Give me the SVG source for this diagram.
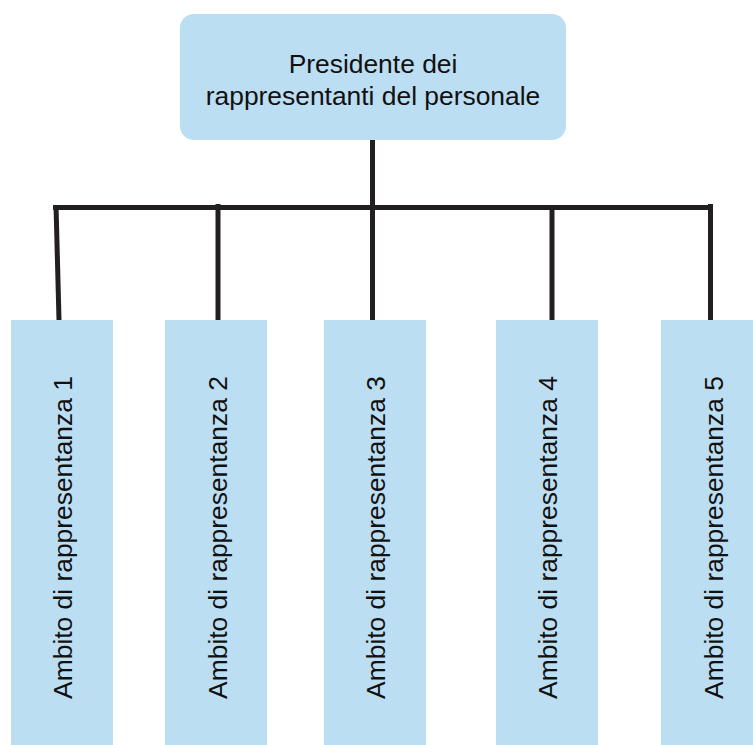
<svg xmlns="http://www.w3.org/2000/svg" width="753" height="745" viewBox="0 0 753 745">
  <style>
    .box { fill: #BCDEF3; }
    .lbl { font-family: "Liberation Sans", Arial, Helvetica, sans-serif; font-size: 26.4px; fill: #111111; text-anchor: middle; }
    .wire { stroke: #231F20; stroke-width: 5; fill: none; stroke-linecap: butt; }
  </style>
  <rect width="753" height="745" fill="#FFFFFF"/>

  <!-- connectors -->
  <g id="connectors">
    <line class="wire" x1="372.5" y1="140" x2="372.5" y2="207"/>
    <line class="wire" x1="53" y1="207.5" x2="713" y2="207.5"/>
    <line class="wire" x1="56" y1="205" x2="59" y2="320"/>
    <line class="wire" x1="218" y1="204" x2="218" y2="320"/>
    <line class="wire" x1="372.5" y1="205" x2="372.5" y2="320"/>
    <line class="wire" x1="552" y1="205" x2="552" y2="320"/>
    <line class="wire" x1="710.5" y1="204" x2="710.5" y2="320"/>
  </g>

  <!-- head node -->
  <g id="presidente">
    <rect class="box" x="180" y="14" width="386" height="126" rx="14" ry="14"/>
    <text class="lbl" x="373" y="73">Presidente dei</text>
    <text class="lbl" x="373" y="105">rappresentanti del personale</text>
  </g>

  <!-- representation areas -->
  <g id="ambito1">
    <rect class="box" x="11" y="320" width="102" height="425"/>
    <text class="lbl" transform="translate(72,537.5) rotate(-90)">Ambito di rappresentanza 1</text>
  </g>
  <g id="ambito2">
    <rect class="box" x="165" y="320" width="102" height="425"/>
    <text class="lbl" transform="translate(227,537.5) rotate(-90)">Ambito di rappresentanza 2</text>
  </g>
  <g id="ambito3">
    <rect class="box" x="324" y="320" width="102" height="425"/>
    <text class="lbl" transform="translate(385,537.5) rotate(-90)">Ambito di rappresentanza 3</text>
  </g>
  <g id="ambito4">
    <rect class="box" x="496" y="320" width="102" height="425"/>
    <text class="lbl" transform="translate(557,537.5) rotate(-90)">Ambito di rappresentanza 4</text>
  </g>
  <g id="ambito5">
    <rect class="box" x="661" y="320" width="102" height="425"/>
    <text class="lbl" transform="translate(723,537.5) rotate(-90)">Ambito di rappresentanza 5</text>
  </g>
</svg>
